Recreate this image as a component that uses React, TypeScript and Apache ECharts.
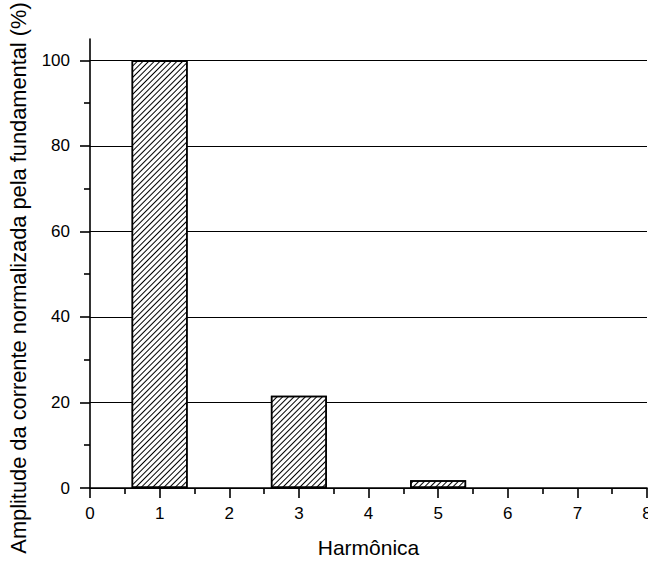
import React, { useEffect, useRef } from "react";
import * as echarts from "echarts";

const harmonics = [1, 3, 5];
const amplitudes = [100, 21.6, 1.8];
const yMajorTicks = [0, 20, 40, 60, 80, 100];
const yMinorTicks = [10, 30, 50, 70, 90];
const xTitle = "Harmônica";
const yTitle = "Amplitude da corrente normalizada pela fundamental (%)";

const FONT = "Liberation Sans, Arial, sans-serif";

export default function App() {
  const ref = useRef<HTMLDivElement>(null);
  useEffect(() => {
    if (!ref.current) return;
    const chart = echarts.init(ref.current, undefined, { renderer: "svg" });
    chart.setOption({
      animation: false,
      backgroundColor: "#fff",
      grid: { left: 90, right: 1, top: 39, bottom: 73, containLabel: false, outerBoundsMode: "none" },
      xAxis: {
        type: "value",
        min: 0,
        max: 8,
        interval: 1,
        name: xTitle,
        nameLocation: "middle",
        nameGap: 49,
        nameTextStyle: { fontFamily: FONT, fontSize: 21, color: "#000" },
        axisLine: { show: true, onZero: false, lineStyle: { color: "#000", width: 1.6 } },
        axisTick: { show: true, inside: false, length: 10, lineStyle: { color: "#000", width: 1.6 } },
        minorTick: { show: true, splitNumber: 2, length: 6, lineStyle: { color: "#000", width: 1.6 } },
        axisLabel: { fontFamily: FONT, fontSize: 17, color: "#000", margin: 17, hideOverlap: false },
        splitLine: { show: false },
      },
      yAxis: [
        {
          type: "value",
          min: 0,
          max: 105,
          interval: 20,
          axisLine: { show: true, lineStyle: { color: "#000", width: 1.6 } },
          axisTick: {
            show: true,
            customValues: yMajorTicks,
            length: 10,
            lineStyle: { color: "#000", width: 1.6 },
          },
          axisLabel: {
            fontFamily: FONT,
            fontSize: 17,
            color: "#000",
            margin: 20,
            customValues: yMajorTicks,
          },
          splitLine: {
            show: true,
            lineStyle: {
              color: ["#000", "#000", "#000", "#000", "#000", "#000", "rgba(0,0,0,0)"],
              width: 1,
            },
          },
        },
        {
          type: "value",
          min: 0,
          max: 105,
          position: "left",
          axisLine: { show: false },
          axisTick: {
            show: true,
            customValues: yMinorTicks,
            length: 6,
            lineStyle: { color: "#000", width: 1.6 },
          },
          axisLabel: { show: false },
          splitLine: { show: false },
        },
      ],
      graphic: [
        {
          type: "text",
          x: 18,
          y: 278,
          rotation: Math.PI / 2,
          style: {
            text: yTitle,
            fontFamily: FONT,
            fontSize: 21.8,
            fill: "#000",
            align: "center",
            verticalAlign: "middle",
          },
        },
      ],
      series: [
        {
          type: "bar",
          data: harmonics.map((h, i) => [h, amplitudes[i]]),
          barWidth: 56,
          z: 3,
          itemStyle: {
            color: "#fff",
            borderColor: "#000",
            borderWidth: 1.5,
            decal: {
              symbol: "rect",
              symbolSize: 1,
              dashArrayX: [1, 0],
              dashArrayY: [1, 3],
              rotation: -Math.PI / 4,
              color: "#000",
              backgroundColor: "#fff",
            },
          },
        },
      ],
    });
    return () => chart.dispose();
  }, []);
  return <div ref={ref} style={{ width: 648, height: 561, position: "absolute", left: 0, top: 0 }} />;
}
